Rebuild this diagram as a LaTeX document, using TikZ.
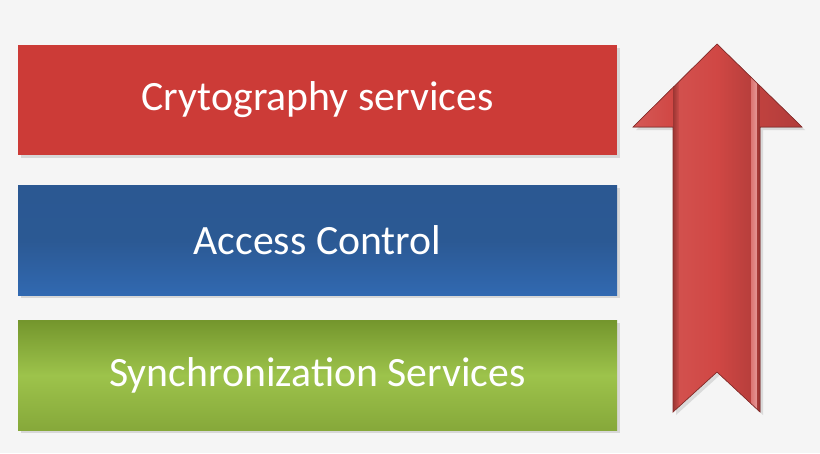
\documentclass[tikz,border=0pt]{standalone}
\usepackage{fontspec}
\setmainfont{Carlito}
\usetikzlibrary{shadows}

\definecolor{bgcol}{HTML}{F5F5F5}
\definecolor{cryred}{HTML}{CC3B37}
\definecolor{arrred}{HTML}{D04744}
\definecolor{acctop}{HTML}{2B5892}
\definecolor{accbot}{HTML}{3169B1}
\definecolor{syntop}{HTML}{74962D}
\definecolor{synmid}{HTML}{9DC34B}
\definecolor{synbot}{HTML}{86A83A}

\tikzset{
	layerbar/.style={minimum width=449.25pt, minimum height=82.5pt,
		inner sep=0pt, text=white, font=\fontsize{31.3}{37}\selectfont,
		drop shadow={opacity=0.25, shadow xshift=2pt, shadow yshift=-2pt}},
}

\begin{document}
\begin{tikzpicture}[x=0.75pt,y=-0.75pt]
	\def\barx{317.5}

	% strip of the arrow: left x, right x, left colour, right colour
	\newcommand*{\arrstrip}[4]{%
	\fill [left color=#3, right color=#4] (#1,40) rectangle (#2,420);
	}

	% background
	\fill [bgcol] (0,0) rectangle (820,453);
	\useasboundingbox (0,0) rectangle (820,453);

	% the three layers
	\node [layerbar, fill=cryred] (crypto) at (\barx,100) {Crytography services};
	\node [layerbar, top color=acctop, bottom color=accbot, middle color=acctop!95!accbot]
		(access) at (\barx,240.5) {Access Control};
	\node [layerbar, top color=syntop, bottom color=synbot, middle color=synmid]
		(sync) at (\barx,375.5) {Synchronization Services};

	% upward arrow
	\fill [gray!60, opacity=0.4] (720,47) -- (805,130) -- (763,130) -- (763,415)
		-- (720,375) -- (676,415) -- (676,130) -- (636,130) -- cycle;
	\begin{scope}
		\clip (717,44) -- (802,127) -- (760,127) -- (760,412)
			-- (717,372) -- (673,412) -- (673,127) -- (633,127) -- cycle;
		\arrstrip{632}{673.5}{arrred!90!white}{arrred}
		\arrstrip{673}{680}{arrred!75!black}{arrred!95!white}
		\arrstrip{679.5}{717.5}{arrred!95!white}{arrred}
		\arrstrip{717}{751.5}{arrred}{arrred!88!black}
		\arrstrip{751}{757.5}{arrred!75!white}{arrred!55!white}
		\arrstrip{757}{760.5}{arrred!80!black}{arrred!70!black}
		\arrstrip{760}{803}{arrred!92!black}{arrred!85!black}
	\end{scope}
	\draw [arrred!65!black, line width=0.5pt]
		(717,44) -- (802,127) -- (760,127) -- (760,412)
		-- (717,372) -- (673,412) -- (673,127) -- (633,127) -- cycle;
\end{tikzpicture}
\end{document}
